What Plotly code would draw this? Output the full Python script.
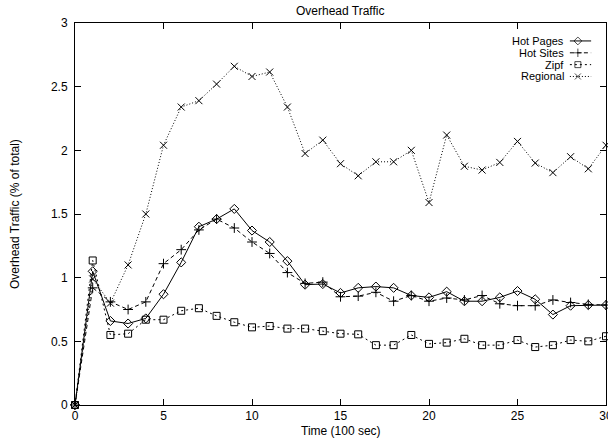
import plotly.graph_objects as go

time = list(range(0, 31))

hot_pages = [0, 1.05, 0.66, 0.64, 0.68, 0.87, 1.12, 1.40, 1.46, 1.54, 1.37, 1.28, 1.13,
             0.945, 0.95, 0.88, 0.92, 0.93, 0.92, 0.86, 0.845, 0.89, 0.815, 0.815,
             0.845, 0.895, 0.83, 0.71, 0.78, 0.785, 0.785]
hot_sites = [0, 0.92, 0.81, 0.75, 0.81, 1.11, 1.22, 1.375, 1.46, 1.39, 1.28, 1.19, 1.04,
             0.955, 0.965, 0.85, 0.855, 0.885, 0.815, 0.86, 0.815, 0.84, 0.825, 0.86,
             0.795, 0.78, 0.78, 0.825, 0.805, 0.79, 0.785]
zipf = [0, 1.135, 0.55, 0.56, 0.67, 0.67, 0.74, 0.76, 0.70, 0.65, 0.61, 0.62, 0.60,
        0.60, 0.58, 0.56, 0.555, 0.47, 0.47, 0.55, 0.48, 0.49, 0.52, 0.47, 0.47,
        0.51, 0.455, 0.47, 0.51, 0.50, 0.54]
regional = [0, 0.99, 0.80, 1.10, 1.50, 2.04, 2.34, 2.39, 2.52, 2.66, 2.58, 2.615, 2.34,
            1.975, 2.08, 1.895, 1.80, 1.91, 1.91, 2.0, 1.59, 2.12, 1.875, 1.845, 1.905,
            2.07, 1.90, 1.825, 1.95, 1.855, 2.04]

series_names = ["Hot Pages", "Hot Sites", "Zipf", "Regional"]
series_values = [hot_pages, hot_sites, zipf, regional]
dashes = ["solid", "4px,3px", "2px,3px", "1px,2px"]
symbols = ["diamond-open", "cross-thin-open", "square-open", "x-thin-open"]
msizes = [7, 7, 7, 7]

x_ticks = [0, 5, 10, 15, 20, 25, 30]
y_ticks = [0, 0.5, 1, 1.5, 2, 2.5, 3]
y_tick_labels = ["0", "0.5", "1", "1.5", "2", "2.5", "3"]

FONT = "Liberation Sans, Arial, Helvetica, sans-serif"
FS = 12
LEG_FS = 11

fig = go.Figure()
for name, vals, d, s, ms in zip(series_names, series_values, dashes, symbols, msizes):
    fig.add_trace(go.Scatter(
        x=time, y=vals, name=name, mode="lines+markers",
        line=dict(color="black", width=1, dash=d),
        marker=dict(symbol=s, size=ms, color="black", line=dict(color="black", width=1)),
        showlegend=False, cliponaxis=False,
    ))

# custom gnuplot-style legend (text then sample on the right)
leg_y = [0.953, 0.922, 0.891, 0.860]
for name, d, s, ms, ly in zip(series_names, dashes, symbols, msizes, leg_y):
    fig.add_annotation(text=name, xref="paper", yref="paper", x=0.923, y=ly,
                       xanchor="right", yanchor="middle", showarrow=False,
                       borderpad=0,
                       font=dict(family=FONT, size=LEG_FS, color="black"))
    fig.add_trace(go.Scatter(
        x=[0.932, 0.947, 0.972], y=[ly, ly, ly], xaxis="x2", yaxis="y2",
        mode="lines+markers", line=dict(color="black", width=1, dash=d),
        marker=dict(symbol=s, size=[0, ms - 1, 0], color="black",
                    line=dict(color="black", width=1)),
        showlegend=False, hoverinfo="skip",
    ))

# axis titles and plot title as positioned text
fig.add_annotation(text="Overhead Traffic", xref="paper", yref="paper", x=0.5,
                   y=1 + 12 / 382, xanchor="center", yanchor="middle", showarrow=False,
                   font=dict(family=FONT, size=FS, color="black"))
fig.add_annotation(text="Time (100 sec)", xref="paper", yref="paper", x=0.5,
                   y=-26 / 382, xanchor="center", yanchor="middle", showarrow=False,
                   borderpad=0,
                   font=dict(family=FONT, size=FS, color="black"))
fig.add_annotation(text="Overhead Traffic (% of total)", xref="paper", yref="paper",
                   x=-60 / 531, y=0.5, xanchor="center", yanchor="middle",
                   textangle=-90, showarrow=False,
                   font=dict(family=FONT, size=FS, color="black"))

axis_common = dict(
    showline=True, linecolor="black", linewidth=1, mirror="ticks",
    ticks="inside", ticklen=6, tickcolor="black", tickwidth=1,
    showgrid=False, zeroline=False,
    tickfont=dict(family=FONT, size=FS, color="black"),
)

fig.update_layout(
    width=608, height=439,
    margin=dict(l=75, r=2, t=23, b=34),
    paper_bgcolor="white", plot_bgcolor="white",
    font=dict(family=FONT, size=FS, color="black"),
    xaxis=dict(range=[0, 30], tickvals=x_ticks, ticktext=[str(t) for t in x_ticks],
               ticklabeloverflow="allow", automargin=False, **axis_common),
    yaxis=dict(range=[0, 3], tickvals=y_ticks, ticktext=y_tick_labels,
               ticklabelstandoff=4, automargin=False, **axis_common),
    xaxis2=dict(range=[0, 1], overlaying="x", visible=False, fixedrange=True),
    yaxis2=dict(range=[0, 1], overlaying="y", visible=False, fixedrange=True),
)

fig.write_html("out.html")
